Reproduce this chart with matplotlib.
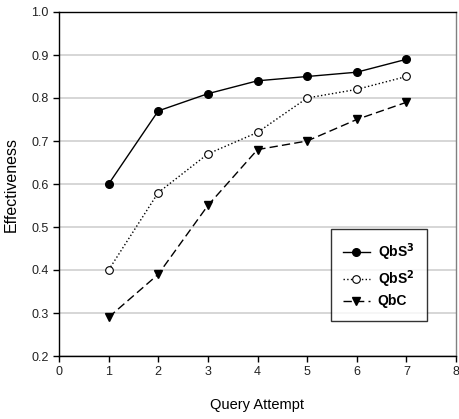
import matplotlib
matplotlib.use("Agg")
import matplotlib.pyplot as plt

attempts = [1, 2, 3, 4, 5, 6, 7]
qbs3 = [0.60, 0.77, 0.81, 0.84, 0.85, 0.86, 0.89]
qbs2 = [0.40, 0.58, 0.67, 0.72, 0.80, 0.82, 0.85]
qbc = [0.29, 0.39, 0.55, 0.68, 0.70, 0.75, 0.79]

plt.rcParams['font.family'] = ['Liberation Sans', 'DejaVu Sans']

fig = plt.figure(figsize=(4.59, 4.19), dpi=100)
ax = fig.add_axes([59/459, 1 - 356/419, (456 - 59)/459, (356 - 12)/419])

ms = 5.5
ax.plot(attempts, qbs3, '-', color='black', lw=1, marker='o', ms=ms, mfc='black', mec='black', label='QbS$^\\mathbf{3}$')
ax.plot(attempts, qbs2, ':', color='black', lw=1, marker='o', ms=ms, mfc='white', mec='black', mew=0.8, label='QbS$^\\mathbf{2}$')
ax.plot(attempts, qbc, '--', dashes=(6, 3), color='black', lw=1, marker='v', ms=ms, mfc='black', mec='black', label='QbC')

ax.set_xlim(0, 8)
ax.set_ylim(0.2, 1.0)
ax.set_xticks(range(0, 9))
ax.set_yticks([0.2, 0.3, 0.4, 0.5, 0.6, 0.7, 0.8, 0.9, 1.0])
ax.set_yticklabels(['0.2', '0.3', '0.4', '0.5', '0.6', '0.7', '0.8', '0.9', '1.0'])
ax.yaxis.grid(True, color='#d0d0d0', lw=1.2)
ax.set_axisbelow(True)
ax.tick_params(labelsize=9, length=4, width=1, color='black', labelcolor='#222222')
for s in ['left', 'bottom', 'top']:
    ax.spines[s].set_color('black')
    ax.spines[s].set_linewidth(1)
ax.spines['right'].set_color('#808080')
ax.spines['right'].set_linewidth(1)

ax.set_xlabel('Query Attempt', fontsize=10.5, labelpad=14)
ax.set_ylabel('Effectiveness', fontsize=11.5, labelpad=9)

leg = ax.legend(loc='lower right', bbox_to_anchor=((427 - 59)/397, (356 - 321)/344),
                borderaxespad=0, frameon=True, fancybox=False, edgecolor='black',
                handlelength=1.9, borderpad=0.9, labelspacing=0.35, handletextpad=0.6,
                prop={'weight': 'bold', 'size': 10})
leg.get_frame().set_linewidth(1)

fig.savefig('out.png', dpi=100)
